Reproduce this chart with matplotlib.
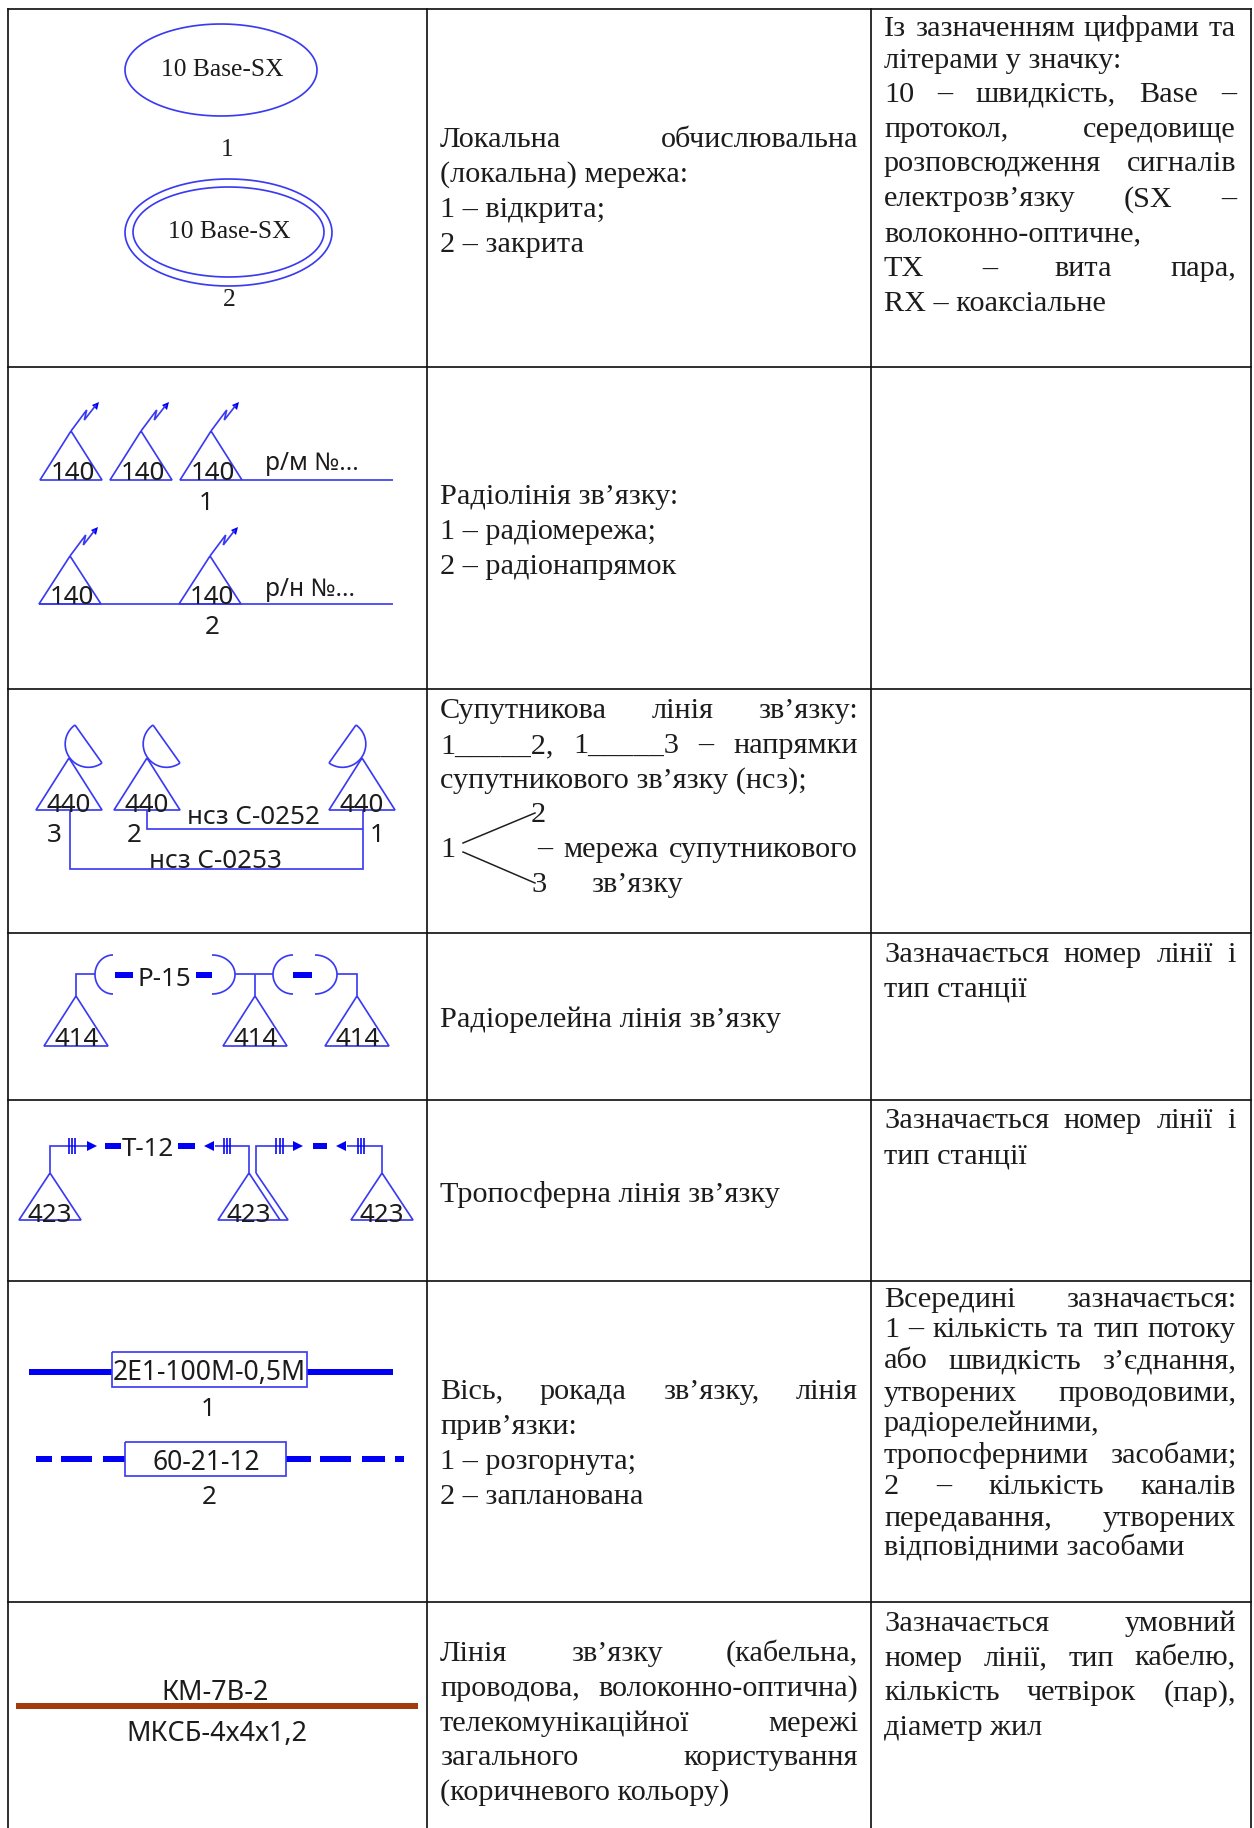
import numpy as np
import matplotlib
matplotlib.use('Agg')
import matplotlib.pyplot as plt

W = 1254
H = 1828
col_lines = [8, 427, 871, 1251]
row_lines = [9, 367, 689, 933, 1100, 1281, 1602]

# (shrunk y of the line, justified?, text)
col2_lines = [
    (118, True, 'Локальна обчислювальна'),
    (148, False, '(локальна) мережа:'),
    (178, False, '1 – відкрита;'),
    (208, False, '2 – закрита'),
    (424, False, 'Радіолінія зв’язку:'),
    (454, False, '1 – радіомережа;'),
    (484, False, '2 – радіонапрямок'),
    (608, True, 'Супутникова лінія зв’язку:'),
    (638, True, '1_____2, 1_____3 – напрямки'),
    (668, False, 'супутникового зв’язку (нсз);'),
    (873, False, 'Радіорелейна лінія зв’язку'),
    (1023, False, 'Тропосферна лінія зв’язку'),
    (1192, True, 'Вісь, рокада зв’язку, лінія'),
    (1222, False, 'прив’язки:'),
    (1252, False, '1 – розгорнута;'),
    (1282, False, '2 – запланована'),
    (1417, True, 'Лінія зв’язку (кабельна,'),
    (1447, True, 'проводова, волоконно-оптична)'),
    (1477, True, 'телекомунікаційної мережі'),
    (1506, True, 'загального користування'),
    (1536, False, '(коричневого кольору)'),
]
col3_lines = [
    (23, True, 'Із зазначенням цифрами та'),
    (50, False, 'літерами у значку:'),
    (79, True, '10 – швидкість, Base –'),
    (109, True, 'протокол, середовище'),
    (139, True, 'розповсюдження сигналів'),
    (169, True, 'електрозв’язку (SX –'),
    (199, False, 'волоконно-оптичне,'),
    (229, True, 'TX – вита пара,'),
    (259, False, 'RX – коаксіальне'),
    (817, True, 'Зазначається номер лінії і'),
    (847, False, 'тип станції'),
    (960, True, 'Зазначається номер лінії і'),
    (990, False, 'тип станції'),
    (1113, True, 'Всередині зазначається:'),
    (1139, True, '1 – кількість та тип потоку'),
    (1166, True, 'або швидкість з’єднання,'),
    (1194, True, 'утворених проводовими,'),
    (1220, False, 'радіорелейними,'),
    (1247, True, 'тропосферними засобами;'),
    (1274, True, '2 – кількість каналів'),
    (1301, True, 'передавання, утворених'),
    (1327, False, 'відповідними засобами'),
    (1391, True, 'Зазначається умовний'),
    (1421, True, 'номер лінії, тип кабелю,'),
    (1451, True, 'кількість четвірок (пар),'),
    (1481, False, 'діаметр жил'),
]

blue = '#3a3af2'
solid_blue = '#0000f5'
ink = '#1c1c1c'
brown = '#a33c0c'
serif = 'Liberation Serif'
sans = 'Noto Sans'

fig = plt.figure(figsize=(W / 100, H / 100), dpi=100)
ax = fig.add_axes([0, 0, 1, 1])
ax.set_xlim(0, W)
ax.set_ylim(H, 0)
ax.axis('off')
rend = fig.canvas.get_renderer()


def px(n):
    return n * 0.72


def body(x, y, s, size=30.3):
    return ax.text(x, y, s, family=serif, fontsize=px(size), color=ink, va='baseline', ha='left')


def line_of_text(x0, x1, y, just, s):
    if not just:
        body(x0, y, s)
        return
    words = s.split(' ')
    items = [body(x0, y, w) for w in words]
    widths = [t.get_window_extent(rend).width for t in items]
    gap = (x1 - x0 - sum(widths)) / (len(words) - 1)
    x = x0
    for t, w in zip(items, widths):
        t.set_x(x)
        x += w + gap


def label(x, y, s, size=26, family=sans):
    ax.text(x, y + 2, s, family=family, fontsize=px(size), color=ink, ha='center', va='center')


def seg(xs, ys, lw=1.7, color=blue):
    ax.plot(xs, ys, color=color, lw=px(lw), solid_joinstyle='miter', solid_capstyle='butt')


def tri(x, top, base, hw):
    seg([x, x - hw, x + hw, x], [top, base, base, top])


def ell(cx, cy, w, h):
    t = np.linspace(0, 2 * np.pi, 200)
    seg(cx + w / 2 * np.cos(t), cy + h / 2 * np.sin(t))


def bolt(x, y):
    seg([x, x + 15.7, x + 13.3, x + 25], [y, y - 21, y - 11, y - 26])
    ax.fill([x + 28, x + 21, x + 26], [y - 29, y - 26, y - 21], color=solid_blue, lw=0)


def dish(x, y, sign):
    a = np.array([x + sign * 6, y - 33.0])
    b = np.array([x + sign * 33, y + 5.0])
    c = (a + b) / 2
    r = np.hypot(*(b - a)) / 2
    a0 = np.arctan2(*(a - c)[::-1])
    t = np.linspace(0, np.pi, 60) * (-sign)
    seg(c[0] + r * np.cos(a0 + t), c[1] + r * np.sin(a0 + t))
    seg([a[0], b[0]], [a[1], b[1]])


def paren(x0, x1, y0, y1, left):
    t = np.linspace(-np.pi / 2, np.pi / 2, 50)
    cy = (y0 + y1) / 2
    if left:
        seg(x1 - (x1 - x0) * np.cos(t), cy + (y1 - y0) / 2 * np.sin(t))
    else:
        seg(x0 + (x1 - x0) * np.cos(t), cy + (y1 - y0) / 2 * np.sin(t))


def thick(x0, x1, y, lw=6, color=solid_blue):
    seg([x0, x1], [y, y], lw=lw, color=color)


def arrow(tip, y, d):
    ax.fill([tip, tip + d * 10, tip + d * 10], [y, y - 5, y + 5], color=solid_blue, lw=0)


def ticks(xs, y):
    for x in xs:
        seg([x, x], [y - 8, y + 8], lw=1.6, color=solid_blue)


# table grid
for x in col_lines:
    ax.plot([x, x], [row_lines[0], H], color='#111111', lw=px(1.7))
for y in row_lines:
    ax.plot([col_lines[0], col_lines[-1]], [y, y], color='#111111', lw=px(1.7))

# text columns
for c, just, s in col2_lines:
    line_of_text(440, 858, c * 1.1654 + 9.5, just, s)
for c, just, s in col3_lines:
    line_of_text(884, 1236, c * 1.1654 + 9.5, just, s)

# branch in the satellite row
body(440, 857, '1')
body(531, 822, '2')
body(531, 892, '3')
line_of_text(537, 858, 857, True, '– мережа супутникового')
body(591, 892, 'зв’язку')
ax.plot([463, 535], [843, 813], color=ink, lw=px(1.5))
ax.plot([463, 535], [852, 883], color=ink, lw=px(1.5))

# row 1: local network
ell(221, 70, 192, 92)
label(222, 68, '10 Base-SX', 25.5, serif)
label(227, 148, '1', 25.5, serif)
ell(228.5, 232.5, 207, 107)
ell(228.5, 232, 191, 90)
label(229, 230, '10 Base-SX', 25.5, serif)
label(229, 298, '2', 25.5, serif)

# row 2: radio lines
for x in [71, 141, 211]:
    tri(x, 431, 480, 31)
    bolt(x, 431)
    label(x + 2, 472, '140')
seg([242, 393], [480, 480])
label(312, 462, 'р/м №...', 24.5)
label(206, 502, '1')
for x in [70, 210]:
    tri(x, 556, 604, 31)
    bolt(x, 556)
    label(x + 2, 596, '140')
seg([39, 393], [604, 604])
label(310, 587, 'р/н №...', 24.5)
label(212, 626, '2')

# row 3: satellite lines
for x, d in [(69, 1), (147, 1), (362, -1)]:
    tri(x, 758, 810, 33)
    dish(x, 758, d)
    label(x, 803, '440')
seg([147, 147, 363], [810, 829, 829])
seg([363, 363, 70, 70], [810, 869, 869, 810])
label(253, 816, 'нсз С-0252')
label(215, 859, 'нсз С-0253')
label(54, 834, '3')
label(134, 834, '2')
label(377, 834, '1')

# row 4: radio relay
for x in [76, 255, 357]:
    tri(x, 996, 1046, 32)
    label(x + 1, 1037, '414')
seg([76, 76, 95], [996, 974, 974])
seg([235, 273], [974, 974])
seg([255, 255], [974, 996])
seg([337, 357, 357], [974, 974, 996])
paren(95, 113, 955, 994, True)
paren(212, 235, 955, 994, False)
paren(273, 293, 955, 994, True)
paren(315, 337, 955, 994, False)
thick(115, 133, 975)
thick(196, 212, 975)
thick(293, 312, 975)
label(164, 978, 'Р-15')

# row 5: troposcatter
for x in [50, 249, 382]:
    tri(x, 1173, 1220, 31)
    label(x, 1213, '423')
seg([256, 288, 280], [1173, 1220, 1220])
seg([50, 50, 87], [1173, 1146, 1146])
seg([215, 249, 249], [1146, 1146, 1173])
seg([256, 256, 293], [1173, 1146, 1146])
seg([347, 382, 382], [1146, 1146, 1173])
arrow(97, 1146, -1)
arrow(204, 1146, 1)
arrow(303, 1146, -1)
arrow(336, 1146, 1)
ticks([69, 72, 75], 1146)
ticks([224, 227, 230], 1146)
ticks([276, 279.5, 283], 1146)
ticks([358, 361, 364], 1146)
thick(105, 121, 1146)
thick(178, 195, 1146)
thick(313, 327, 1146)
label(148, 1147, 'Т-12')

# row 6: axis lines
thick(29, 112, 1372, 6)
thick(307, 393, 1372, 6)
seg([112, 307, 307, 112, 112], [1352, 1352, 1387, 1387, 1352])
label(209, 1371, '2Е1-100М-0,5М', 26.5)
label(208, 1408, '1')
for x0, x1 in [(36, 52), (61, 92), (103, 125), (286, 311), (320, 351), (362, 385), (395, 404)]:
    thick(x0, x1, 1459, 6)
seg([125, 286, 286, 125, 125], [1442, 1442, 1476, 1476, 1442])
label(206, 1461, '60-21-12', 26.5)
label(209, 1495, '2')

# row 7: cable line
thick(16, 418, 1706, 6, brown)
label(215, 1691, 'КМ-7В-2', 27)
label(217, 1732, 'МКСБ-4х4х1,2', 27)

fig.savefig('out.png', dpi=100)
